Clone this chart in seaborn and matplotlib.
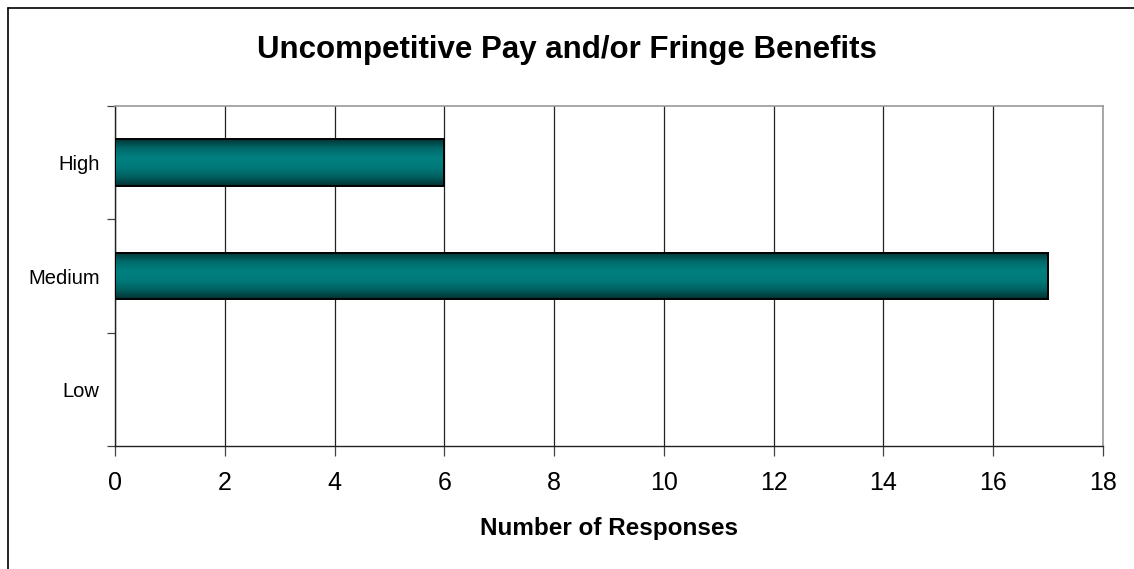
import numpy as np
import pandas as pd
import matplotlib
matplotlib.use("Agg")
import matplotlib.pyplot as plt
from matplotlib.colors import LinearSegmentedColormap
from matplotlib.lines import Line2D
import seaborn as sns

# Survey responses by rating level
levels = ["High", "Medium", "Low"]
responses = [6, 17, 0]
x_ticks = [0, 2, 4, 6, 8, 10, 12, 14, 16, 18]

title = "Uncompetitive Pay and/or Fringe Benefits"
x_label = "Number of Responses"

sns.set_theme(style="white")
plt.rcParams["font.family"] = ["Liberation Sans", "DejaVu Sans"]
plt.rcParams["text.color"] = "black"

df = pd.DataFrame({"level": levels, "responses": responses})

fig = plt.figure(figsize=(11.34, 5.69), dpi=100)
ax = fig.add_axes([115 / 1134, 1 - 446 / 569, (1103 - 115) / 1134, (446 - 106) / 569])

sns.barplot(data=df, x="responses", y="level", order=levels, orient="h",
            width=0.41, color="#008080", edgecolor="black", linewidth=1.4,
            ax=ax, zorder=3)

# Shaded cylinder look: dark edges fading into teal at the middle
shade = LinearSegmentedColormap.from_list(
    "teal_shade", ["#003535", "#006a6a", "#008080", "#007a7a", "#006060", "#003030"])
grad = np.linspace(0, 1, 256).reshape(-1, 1)
for patch in ax.patches:
    w = patch.get_width()
    if w <= 0:
        patch.set_visible(False)
        continue
    x0, y0 = patch.get_x(), patch.get_y()
    h = patch.get_height()
    im = ax.imshow(grad, cmap=shade, aspect="auto", interpolation="bicubic",
                   extent=[x0, x0 + w, y0 + h, y0], zorder=3.5)
    im.set_clip_path(patch)
    patch.set_facecolor("none")
    patch.set_zorder(4)

ax.set_xlim(0, 18)
ax.set_ylim(2.5, -0.5)
ax.set_xticks(x_ticks)
ax.set_xticklabels([str(t) for t in x_ticks], fontsize=18)
ax.set_yticks([0, 1, 2])
ax.set_yticklabels(levels, fontsize=14.5)
ax.set_yticks([-0.5, 0.5, 1.5, 2.5], minor=True)

ax.xaxis.grid(True, color="#222222", linewidth=0.9, zorder=1)
ax.yaxis.grid(False)
ax.tick_params(axis="x", which="major", length=7, width=0.9, color="#444444",
               bottom=True, pad=11, labelcolor="black")
ax.tick_params(axis="y", which="major", length=0, pad=11, labelcolor="black")
ax.tick_params(axis="y", which="minor", length=6, width=0.9, color="#444444", left=True)

for side in ["left", "bottom"]:
    ax.spines[side].set_color("#222222")
    ax.spines[side].set_linewidth(1.0)
for side in ["top", "right"]:
    ax.spines[side].set_visible(True)
    ax.spines[side].set_color("#999999")
    ax.spines[side].set_linewidth(1.2)

ax.set_ylabel("")
ax.set_xlabel(x_label, fontsize=17.5, fontweight="bold", labelpad=16, color="black")
fig.suptitle(title, x=0.5, y=1 - 50 / 569, va="center", fontsize=22.5,
             fontweight="bold", color="black")

# Outer chart frame
fig.add_artist(Line2D([7.5 / 1134, 7.5 / 1134], [0, 1 - 8 / 569], transform=fig.transFigure,
                      color="black", linewidth=1.2))
fig.add_artist(Line2D([7.5 / 1134, 1.0], [1 - 8 / 569, 1 - 8 / 569], transform=fig.transFigure,
                      color="black", linewidth=1.2))

fig.savefig("out.png", dpi=100, facecolor="white")
